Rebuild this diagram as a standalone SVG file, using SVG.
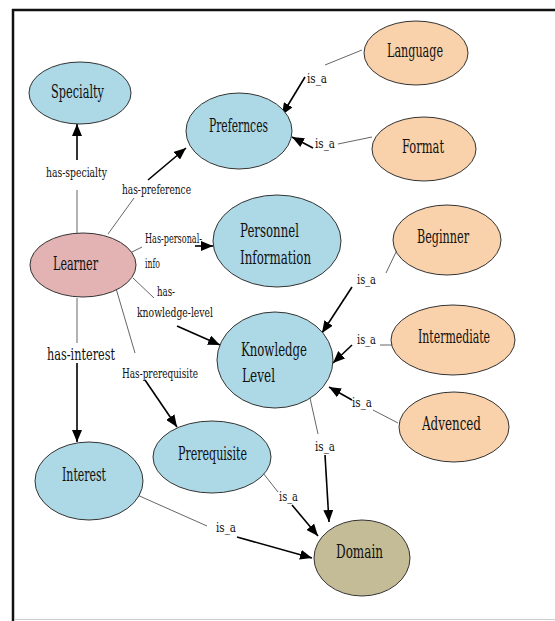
<svg xmlns="http://www.w3.org/2000/svg" width="555" height="621" viewBox="0 0 555 621">
<defs>
<style>
.blue{fill:#add8e6;stroke:#333;stroke-width:1}
.peach{fill:#f9d1aa;stroke:#333;stroke-width:1}
.learner{fill:#e3b2b3;stroke:#333;stroke-width:1}
.domain{fill:#c4bc96;stroke:#333;stroke-width:1}
text{font-family:'DejaVu Serif','Liberation Serif',serif;fill:#111}
.nt{font-size:19px}
.et{font-size:13px}
.thin{stroke:#555;stroke-width:0.9;fill:none}
.arr{stroke:#000;stroke-width:1.6;fill:none;marker-end:url(#ah)}
</style>
<marker id="ah" markerUnits="userSpaceOnUse" markerWidth="13" markerHeight="10" refX="12" refY="5" orient="auto">
<path d="M0,0 L12,5 L0,10 z" fill="#000"/>
</marker>
</defs>
<rect width="555" height="621" fill="#fff"/>
<g id="frame">
<line x1="12" y1="10" x2="555" y2="10" stroke="#111" stroke-width="2.5"/>
<line x1="13" y1="9" x2="13" y2="621" stroke="#111" stroke-width="2.5"/>
<line x1="14" y1="619.5" x2="555" y2="619.5" stroke="#ccc" stroke-width="1"/>
</g>
<g id="connectors">
<line class="thin" x1="77" y1="233" x2="77" y2="190"/>
<line class="arr" x1="77" y1="160" x2="77" y2="124"/>
<line class="thin" x1="108" y1="234" x2="134" y2="198"/>
<line class="arr" x1="148" y1="180" x2="186" y2="148"/>
<line class="thin" x1="130" y1="253" x2="142" y2="247"/>
<line class="arr" x1="195" y1="246" x2="213" y2="246"/>
<line class="thin" x1="133" y1="278" x2="154" y2="298"/>
<line class="arr" x1="177" y1="326" x2="220" y2="345"/>
<line class="thin" x1="77" y1="298" x2="77" y2="343"/>
<line class="arr" x1="77" y1="363" x2="77" y2="442"/>
<line class="thin" x1="115" y1="285" x2="135" y2="353"/>
<line class="arr" x1="145" y1="380" x2="177" y2="427"/>
<line class="thin" x1="362" y1="50" x2="325" y2="65"/>
<line class="arr" x1="305" y1="77" x2="282" y2="115"/>
<line class="thin" x1="372" y1="137" x2="338" y2="144"/>
<line class="arr" x1="313" y1="148" x2="292" y2="137"/>
<line class="thin" x1="397" y1="250" x2="386" y2="273"/>
<line class="arr" x1="352" y1="287" x2="322" y2="333"/>
<line class="thin" x1="392" y1="345" x2="380" y2="345"/>
<line class="arr" x1="352" y1="345" x2="333" y2="363"/>
<line class="thin" x1="398" y1="423" x2="373" y2="410"/>
<line class="arr" x1="352" y1="400" x2="329" y2="387"/>
<line class="thin" x1="310" y1="398" x2="318" y2="434"/>
<line class="arr" x1="325" y1="455" x2="329" y2="522"/>
<line class="thin" x1="263" y1="473" x2="278" y2="492"/>
<line class="arr" x1="292" y1="505" x2="318" y2="536"/>
<line class="thin" x1="135" y1="494" x2="207" y2="526"/>
<line class="arr" x1="237" y1="537" x2="312" y2="558"/>
</g>
<g id="edge-labels">
<text class="et" x="46" y="177" textLength="61" lengthAdjust="spacingAndGlyphs">has-specialty</text>
<text class="et" x="122" y="194" textLength="69" lengthAdjust="spacingAndGlyphs">has-preference</text>
<text class="et" x="145" y="243" textLength="57" lengthAdjust="spacingAndGlyphs">Has-personal-</text>
<text class="et" x="145" y="268" textLength="15" lengthAdjust="spacingAndGlyphs">info</text>
<text class="et" x="157" y="296" textLength="18" lengthAdjust="spacingAndGlyphs">has-</text>
<text class="et" x="137" y="317" textLength="76" lengthAdjust="spacingAndGlyphs">knowledge-level</text>
<text x="47" y="360" textLength="68" lengthAdjust="spacingAndGlyphs" style="font-size:17px">has-interest</text>
<text class="et" x="122" y="378" textLength="76" lengthAdjust="spacingAndGlyphs">Has-prerequisite</text>
<text class="et" x="307" y="83" textLength="20" lengthAdjust="spacingAndGlyphs">is_a</text>
<text class="et" x="315" y="148" textLength="20" lengthAdjust="spacingAndGlyphs">is_a</text>
<text class="et" x="357" y="284" textLength="19" lengthAdjust="spacingAndGlyphs">is_a</text>
<text class="et" x="357" y="344" textLength="19" lengthAdjust="spacingAndGlyphs">is_a</text>
<text class="et" x="352" y="407" textLength="20" lengthAdjust="spacingAndGlyphs">is_a</text>
<text class="et" x="315" y="451" textLength="20" lengthAdjust="spacingAndGlyphs">is_a</text>
<text class="et" x="279" y="501" textLength="19" lengthAdjust="spacingAndGlyphs">is_a</text>
<text class="et" x="216" y="532" textLength="20" lengthAdjust="spacingAndGlyphs">is_a</text>
</g>
<g id="specialty">
<ellipse class="blue" cx="80" cy="93" rx="51" ry="31"/>
<text class="nt" x="51" y="98" textLength="53" lengthAdjust="spacingAndGlyphs">Specialty</text>
</g>
<g id="prefernces">
<ellipse class="blue" cx="239" cy="131" rx="53" ry="38"/>
<text class="nt" x="209" y="132" textLength="59" lengthAdjust="spacingAndGlyphs">Prefernces</text>
</g>
<g id="language">
<ellipse class="peach" cx="416" cy="53" rx="52" ry="32"/>
<text class="nt" x="387" y="57" textLength="56" lengthAdjust="spacingAndGlyphs">Language</text>
</g>
<g id="format">
<ellipse class="peach" cx="424" cy="149" rx="52" ry="32"/>
<text class="nt" x="402" y="153" textLength="42" lengthAdjust="spacingAndGlyphs">Format</text>
</g>
<g id="learner">
<ellipse class="learner" cx="83" cy="265" rx="53" ry="32"/>
<text class="nt" x="53" y="270" textLength="45" lengthAdjust="spacingAndGlyphs">Learner</text>
</g>
<g id="personnel">
<ellipse class="blue" cx="277" cy="241" rx="64" ry="46"/>
<text class="nt" x="240" y="237" textLength="59" lengthAdjust="spacingAndGlyphs">Personnel</text>
<text class="nt" x="240" y="264" textLength="71" lengthAdjust="spacingAndGlyphs">Information</text>
</g>
<g id="beginner">
<ellipse class="peach" cx="447" cy="240" rx="54" ry="35"/>
<text class="nt" x="417" y="243" textLength="52" lengthAdjust="spacingAndGlyphs">Beginner</text>
</g>
<g id="intermediate">
<ellipse class="peach" cx="453" cy="340" rx="62" ry="35"/>
<text class="nt" x="418" y="343" textLength="72" lengthAdjust="spacingAndGlyphs">Intermediate</text>
</g>
<g id="advenced">
<ellipse class="peach" cx="454" cy="427" rx="55" ry="35"/>
<text class="nt" x="422" y="430" textLength="59" lengthAdjust="spacingAndGlyphs">Advenced</text>
</g>
<g id="knowledge-level">
<ellipse class="blue" cx="275" cy="360" rx="58" ry="48"/>
<text class="nt" x="241" y="356" textLength="66" lengthAdjust="spacingAndGlyphs">Knowledge</text>
<text class="nt" x="242" y="382" textLength="33" lengthAdjust="spacingAndGlyphs">Level</text>
</g>
<g id="interest">
<ellipse class="blue" cx="89" cy="481" rx="54" ry="39"/>
<text class="nt" x="62" y="481" textLength="44" lengthAdjust="spacingAndGlyphs">Interest</text>
</g>
<g id="prerequisite">
<ellipse class="blue" cx="212" cy="457" rx="59" ry="36"/>
<text class="nt" x="178" y="460" textLength="69" lengthAdjust="spacingAndGlyphs">Prerequisite</text>
</g>
<g id="domain">
<ellipse class="domain" cx="362" cy="558" rx="48" ry="38"/>
<text class="nt" x="336" y="558" textLength="47" lengthAdjust="spacingAndGlyphs">Domain</text>
</g>
</svg>
